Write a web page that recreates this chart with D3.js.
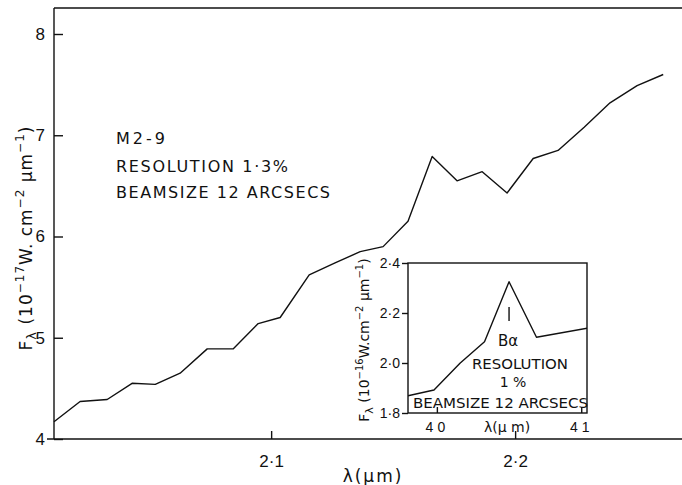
<!DOCTYPE html>
<html>
<head>
<meta charset="utf-8">
<script src="https://cdn.jsdelivr.net/npm/d3@7"></script>
<style>
  body { margin: 0; background: #fff; }
  svg { display: block; font-family: 'DejaVu Sans', 'Liberation Sans', sans-serif; }
  .axis path, .axis line, .frame { stroke: #111; stroke-width: 1.4; fill: none; }
  .axis text { fill: #111; }
  .curve { stroke: #111; stroke-width: 1.4; fill: none; stroke-linejoin: round; }
  text { fill: #111; }
</style>
</head>
<body>
<svg id="chart" width="682" height="485"></svg>
<script>
'use strict';

// main spectrum, M2-9
const mainWavelength = [2.011, 2.0217, 2.0328, 2.043, 2.0525, 2.0627, 2.0738, 2.0844, 2.0947, 2.1037,
    2.1156, 2.1262, 2.1365, 2.1459, 2.1561, 2.166, 2.1762, 2.1865, 2.1967, 2.2074,
    2.2176, 2.2283, 2.2389, 2.25, 2.2607];
const mainFlux = [4.17, 4.37, 4.39, 4.55, 4.54, 4.65, 4.89, 4.89, 5.14, 5.2,
    5.62, 5.74, 5.85, 5.9, 6.15, 6.79, 6.55, 6.64, 6.43, 6.77,
    6.85, 7.08, 7.32, 7.49, 7.6];
const mainXTicks = [2.1, 2.2];
const mainYTicks = [4, 5, 6, 7, 8];

// inset, Br alpha
const insetWavelength = [3.98, 3.998, 4.016, 4.033, 4.05, 4.069, 4.105];
const insetFlux = [1.869, 1.892, 1.999, 2.085, 2.325, 2.103, 2.14];
const insetXTicks = [4.0, 4.1];
const insetYTicks = [1.8, 2.0, 2.2, 2.4];

const notes = ['M2-9', 'RESOLUTION  1·3%', 'BEAMSIZE  12  ARCSECS'];

const dotted = d => d.toFixed(1).replace('.', '·');

const svg = d3.select('#chart');

// ---- main plot ----
const x = d3.scaleLinear().domain([2.011, 2.2684]).range([54, 682]);
const y = d3.scaleLinear().domain([4, 8]).range([439, 34]);

svg.append('line').attr('class', 'frame')
    .attr('x1', 54).attr('x2', 682).attr('y1', 8).attr('y2', 8);
svg.append('line').attr('class', 'frame')
    .attr('x1', 54).attr('x2', 54).attr('y1', 8).attr('y2', 439);
svg.append('line').attr('class', 'frame')
    .attr('x1', 47).attr('x2', 682).attr('y1', 439).attr('y2', 439);

svg.append('g')
    .attr('class', 'axis')
    .attr('transform', 'translate(0,439)')
    .call(d3.axisBottom(x).tickValues(mainXTicks).tickSizeInner(-8).tickSizeOuter(0)
        .tickPadding(16).tickFormat(dotted))
    .call(g => g.select('.domain').remove())
    .selectAll('text').attr('font-size', 17);

svg.append('g')
    .attr('class', 'axis')
    .attr('transform', 'translate(54,0)')
    .call(d3.axisLeft(y).tickValues(mainYTicks).tickSizeInner(-9).tickSizeOuter(0)
        .tickPadding(9).tickFormat(d3.format('d')))
    .call(g => g.select('.domain').remove())
    .selectAll('text').attr('font-size', 17);

svg.append('path')
    .attr('class', 'curve')
    .attr('d', d3.line().x((d, i) => x(mainWavelength[i])).y(d => y(d))(mainFlux));

// axis titles
svg.append('text')
    .attr('x', 373).attr('y', 482)
    .attr('text-anchor', 'middle').attr('font-size', 17)
    .attr('letter-spacing', 2)
    .text('λ(μm)');

const yTitle = svg.append('text')
    .attr('transform', 'translate(32,238) rotate(-90)')
    .attr('text-anchor', 'middle').attr('font-size', 17)
    .attr('letter-spacing', 1);
yTitle.append('tspan').text('F');
yTitle.append('tspan').attr('font-size', 13).attr('dy', 4).text('λ');
yTitle.append('tspan').attr('dy', -4).text(' (10');
yTitle.append('tspan').attr('font-size', 12).attr('dy', -8).text('−17');
yTitle.append('tspan').attr('dy', 8).text('W. cm');
yTitle.append('tspan').attr('font-size', 12).attr('dy', -8).text('−2');
yTitle.append('tspan').attr('dy', 8).text(' μm');
yTitle.append('tspan').attr('font-size', 12).attr('dy', -8).text('−1');
yTitle.append('tspan').attr('dy', 8).text(')');

// notes block
const noteWidths = [49, 172, 214];
svg.selectAll('text.note')
    .data(notes)
    .join('text')
    .attr('class', 'note')
    .attr('x', 116)
    .attr('y', (d, i) => [144, 172, 198][i])
    .attr('font-size', 16)
    .attr('textLength', (d, i) => noteWidths[i])
    .attr('lengthAdjust', 'spacing')
    .text(d => d);

// ---- inset ----
const ix = d3.scaleLinear().domain([3.98, 4.104]).range([408, 587]);
const iy = d3.scaleLinear().domain([1.8, 2.4]).range([413, 263]);

const inset = svg.append('g');
inset.append('rect').attr('class', 'frame')
    .attr('x', 408).attr('y', 263).attr('width', 179).attr('height', 150)
    .style('fill', '#fff');

inset.append('defs').append('clipPath').attr('id', 'insetClip')
    .append('rect').attr('x', 408).attr('y', 263).attr('width', 179).attr('height', 150);

inset.append('g')
    .attr('class', 'axis')
    .attr('transform', 'translate(408,0)')
    .call(d3.axisLeft(iy).tickValues(insetYTicks).tickSizeInner(6).tickSizeOuter(0)
        .tickPadding(2).tickFormat(dotted))
    .call(g => g.select('.domain').remove())
    .selectAll('text').attr('font-size', 14);

inset.append('g')
    .attr('class', 'axis')
    .attr('transform', 'translate(0,413)')
    .call(d3.axisBottom(ix)
        .tickValues(insetXTicks).tickSizeInner(-6).tickSizeOuter(0)
        .tickPadding(9).tickFormat(d => d.toFixed(1).replace('.', '')))
    .call(g => g.select('.domain').remove())
    .selectAll('text').attr('font-size', 14).attr('letter-spacing', 4);

inset.append('path')
    .attr('class', 'curve')
    .attr('clip-path', 'url(#insetClip)')
    .attr('d', d3.line().x((d, i) => ix(insetWavelength[i])).y(d => iy(d))(insetFlux));

inset.append('line').attr('class', 'frame')
    .attr('x1', ix(4.05)).attr('x2', ix(4.05)).attr('y1', 307).attr('y2', 321);

inset.append('text').attr('x', 508).attr('y', 346)
    .attr('text-anchor', 'middle').attr('font-size', 15).text('Bα');
inset.append('text').attr('x', 520).attr('y', 369)
    .attr('text-anchor', 'middle').attr('font-size', 14)
    .attr('textLength', 96).attr('lengthAdjust', 'spacingAndGlyphs').text('RESOLUTION');
inset.append('text').attr('x', 513).attr('y', 387)
    .attr('text-anchor', 'middle').attr('font-size', 14).text('1 %');
inset.append('text').attr('x', 413).attr('y', 408)
    .attr('font-size', 14)
    .attr('textLength', 175).attr('lengthAdjust', 'spacingAndGlyphs').text('BEAMSIZE 12 ARCSECS');

inset.append('text').attr('x', 507).attr('y', 432)
    .attr('text-anchor', 'middle').attr('font-size', 14).text('λ(μ m)');

const iTitle = inset.append('text')
    .attr('transform', 'translate(369,340) rotate(-90)')
    .attr('text-anchor', 'middle').attr('font-size', 14);
iTitle.append('tspan').text('F');
iTitle.append('tspan').attr('font-size', 11).attr('dy', 4).text('λ');
iTitle.append('tspan').attr('dy', -4).text(' (10');
iTitle.append('tspan').attr('font-size', 10).attr('dy', -6).text('−16');
iTitle.append('tspan').attr('dy', 6).text('W.cm');
iTitle.append('tspan').attr('font-size', 10).attr('dy', -6).text('−2');
iTitle.append('tspan').attr('dy', 6).text(' μm');
iTitle.append('tspan').attr('font-size', 10).attr('dy', -6).text('−1');
iTitle.append('tspan').attr('dy', 6).text(')');
</script>
</body>
</html>
